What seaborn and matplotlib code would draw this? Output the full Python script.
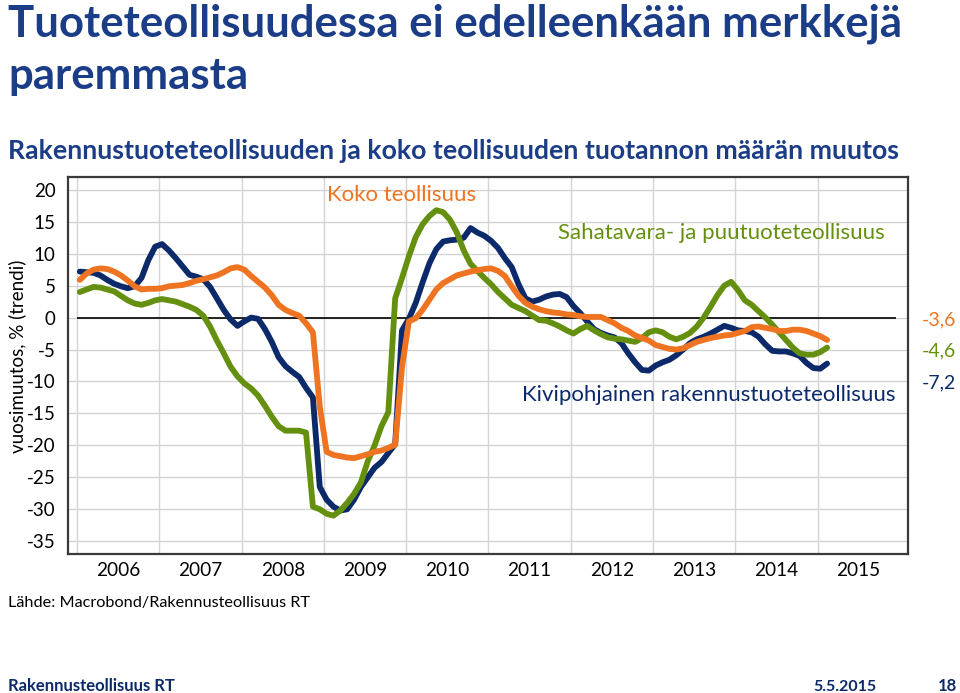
import numpy as np
import pandas as pd
import matplotlib
matplotlib.use("Agg")
import matplotlib.pyplot as plt
import seaborn as sns

# ---------------- data (monthly, Jan 2006 - Feb 2015) ----------------
start_year = 2006
n_months = 110

kivi = [7.2, 7.1, 7.0, 6.6, 5.9, 5.3, 4.9, 4.6, 4.9, 6.2,
        9.0, 11.1, 11.5, 10.5, 9.3, 8.0, 6.7, 6.4, 6.0, 4.8,
        3.0, 1.2, -0.3, -1.3, -0.6, 0.0, -0.2, -1.8, -3.8, -6.2,
        -7.6, -8.5, -9.3, -11.0, -12.5, -26.5, -28.5, -29.6, -30.2, -30.0,
        -28.5, -26.5, -25.0, -23.5, -22.6, -21.2, -19.8, -2.0, -0.2, 2.3,
        5.5, 8.5, 10.7, 11.9, 12.1, 12.2, 12.5, 14.0, 13.3, 12.8,
        12.0, 10.9, 9.3, 7.9, 5.2, 3.0, 2.5, 2.8, 3.3, 3.6,
        3.7, 3.2, 1.8, 0.7, -0.6, -1.8, -2.4, -2.8, -3.1, -4.0,
        -5.6, -7.0, -8.2, -8.3, -7.5, -7.0, -6.6, -5.9, -5.0, -4.0,
        -3.4, -3.0, -2.5, -1.9, -1.3, -1.6, -2.0, -2.1, -2.3, -3.0,
        -4.2, -5.2, -5.3, -5.3, -5.6, -6.0, -7.1, -7.9, -8.0, -7.2]

koko = [5.9, 6.9, 7.5, 7.7, 7.6, 7.2, 6.6, 5.8, 4.9, 4.4,
        4.5, 4.5, 4.6, 4.9, 5.0, 5.1, 5.4, 5.75, 6.0, 6.3,
        6.6, 7.1, 7.7, 7.9, 7.5, 6.5, 5.6, 4.7, 3.5, 2.0,
        1.2, 0.7, 0.3, -0.9, -2.3, -13.9, -21.0, -21.5, -21.7, -21.9,
        -22.0, -21.7, -21.4, -21.0, -20.8, -20.4, -19.9, -7.7, -0.6, -0.1,
        1.2, 2.8, 4.4, 5.4, 6.0, 6.6, 6.9, 7.2, 7.4, 7.6,
        7.7, 7.3, 6.5, 4.9, 3.4, 2.3, 1.7, 1.3, 1.0, 0.8,
        0.7, 0.5, 0.4, 0.2, 0.1, 0.1, 0.1, -0.4, -0.9, -1.6,
        -2.1, -2.8, -3.2, -3.6, -4.3, -4.6, -4.9, -5.0, -4.8, -4.3,
        -3.8, -3.5, -3.2, -3.0, -2.8, -2.7, -2.4, -2.1, -1.5, -1.4,
        -1.6, -1.8, -2.1, -2.1, -1.9, -1.9, -2.1, -2.5, -2.9, -3.5]

saha = [4.0, 4.4, 4.8, 4.7, 4.4, 4.1, 3.4, 2.7, 2.2, 2.0,
        2.3, 2.7, 2.9, 2.7, 2.5, 2.1, 1.7, 1.2, 0.3, -1.4,
        -3.6, -5.6, -7.7, -9.2, -10.3, -11.1, -12.2, -13.8, -15.5, -17.0,
        -17.7, -17.7, -17.7, -18.0, -29.6, -30.0, -30.7, -31.0, -30.2, -29.0,
        -27.6, -25.8, -22.5, -20.0, -17.0, -14.8, 3.0, 6.2, 9.6, 12.6,
        14.6, 15.9, 16.8, 16.5, 15.3, 13.3, 10.5, 8.4, 7.3, 6.2,
        5.2, 4.0, 3.0, 2.0, 1.5, 1.0, 0.3, -0.4, -0.5, -0.9,
        -1.4, -2.0, -2.5, -1.8, -1.3, -2.0, -2.6, -3.1, -3.3, -3.4,
        -3.6, -3.8, -3.2, -2.3, -2.0, -2.3, -3.0, -3.4, -3.0, -2.4,
        -1.4, 0.0, 1.7, 3.5, 5.0, 5.6, 4.3, 2.7, 2.0, 1.0,
        0.0, -1.1, -2.3, -3.5, -4.7, -5.6, -5.8, -5.8, -5.4, -4.7]

series_names = ["Kivipohjainen rakennustuoteteollisuus",
                "Sahatavara- ja puutuoteteollisuus",
                "Koko teollisuus"]
series_colors = ["#0c2a6a", "#65900f", "#ee7422"]
end_labels = ["-7,2", "-4,6", "-3,6"]
year_ticks = list(range(2006, 2016))
year_labels = [str(y) for y in year_ticks]
y_ticks = list(range(20, -40, -5))

title_lines = ["Tuoteteollisuudessa ei edelleenkään merkkejä", "paremmasta"]
subtitle = "Rakennustuoteteollisuuden ja koko teollisuuden tuotannon määrän muutos"
y_label = "vuosimuutos, % (trendi)"
source = "Lähde: Macrobond/Rakennusteollisuus RT"
footer_left = "Rakennusteollisuus RT"
footer_date = "5.5.2015"
footer_page = "18"

# ---------------- build frame ----------------
dates = pd.date_range(f"{start_year}-01-01", periods=n_months, freq="MS")
t = dates.year + (dates.month - 1 + 0.4) / 12.0
df = pd.concat([
    pd.DataFrame({"t": t, "v": vals, "sarja": name})
    for name, vals in zip(series_names, [kivi, saha, koko])
], ignore_index=True)

# ---------------- style ----------------
sns.set_style("white")
plt.rcParams["font.family"] = ["Lato", "DejaVu Sans"]
plt.rcParams["axes.unicode_minus"] = False
plt.rcParams["lines.solid_joinstyle"] = "round"
plt.rcParams["lines.solid_capstyle"] = "round"

W, H = 960, 693
fig = plt.figure(figsize=(W / 100, H / 100), dpi=100)
ax = fig.add_axes([68 / W, 1 - 554 / H, (908 - 68) / W, (554 - 177) / H])

def fx(px):
    return px / W

def fy(py):
    return 1 - py / H

sns.lineplot(data=df, x="t", y="v", hue="sarja", hue_order=series_names,
             palette=series_colors, linewidth=4.2, legend=False, ax=ax,
             sort=False, estimator=None)

ax.set_xlim(2005.89, 2016.10)
ax.set_ylim(-37.0, 22.0)

# grid
ax.set_yticks(y_ticks)
ax.set_yticklabels([str(v) for v in y_ticks])
ax.set_xticks(year_ticks)
ax.set_xticklabels([])
ax.set_xticks([y + 0.5 for y in year_ticks], minor=True)
ax.set_xticklabels(year_labels, minor=True)
ax.grid(True, which="major", color="#d4d4d4", linewidth=1.0)
ax.set_axisbelow(True)
ax.tick_params(axis="x", which="major", direction="in", length=6,
               color="#555555", width=1)
ax.tick_params(axis="x", which="minor", length=0, labelsize=13.7,
               labelcolor="#000000", pad=6)
ax.tick_params(axis="y", which="major", direction="out", length=5,
               color="#bbbbbb", labelsize=13.5, pad=4, labelcolor="#000000")
for sp in ax.spines.values():
    sp.set_color("#3a3a3a")
    sp.set_linewidth(1.6)

ax.hlines(0, 2006.0, 2015.96, color="black", linewidth=1.2, zorder=1.5)
ax.set_xlabel("")
ax.set_ylabel("")

# series annotations
fig.text(fx(327), fy(195), "Koko teollisuus", color=series_colors[2],
         fontsize=16, va="center", ha="left")
fig.text(fx(558), fy(233), "Sahatavara- ja puutuoteteollisuus",
         color=series_colors[1], fontsize=16, va="center", ha="left")
fig.text(fx(522), fy(395), "Kivipohjainen rakennustuoteteollisuus",
         color=series_colors[0], fontsize=16, va="center", ha="left")

# end labels
for lab, col, py in zip(end_labels, series_colors, [383, 351, 320]):
    fig.text(fx(922), fy(py), lab, color=col, fontsize=14, va="center",
             ha="left")

# titles
navy = "#1b3c86"
fig.text(fx(8), fy(37), title_lines[0], color=navy, fontsize=31.5,
         fontweight="bold", va="baseline", ha="left")
fig.text(fx(8), fy(89), title_lines[1], color=navy, fontsize=31.5,
         fontweight="bold", va="baseline", ha="left")
fig.text(fx(8), fy(159), subtitle, color=navy, fontsize=19.2,
         fontweight="bold", va="baseline", ha="left")

fig.text(fx(17), fy(356), y_label, rotation=90, fontsize=13.5,
         color="#000000", va="center", ha="center")

fig.text(fx(8), fy(607), source, fontsize=11.7, color="#000000",
         va="baseline", ha="left")

fig.text(fx(8), fy(691), footer_left, fontsize=12, fontweight="bold",
         color="#0c2a6a", va="baseline", ha="left")
fig.text(fx(876), fy(691), footer_date, fontsize=11.5, fontweight="bold",
         color="#0c2a6a", va="baseline", ha="right")
fig.text(fx(957), fy(691), footer_page, fontsize=12, fontweight="bold",
         color="#0c2a6a", va="baseline", ha="right")

fig.savefig("out.png", dpi=100)
